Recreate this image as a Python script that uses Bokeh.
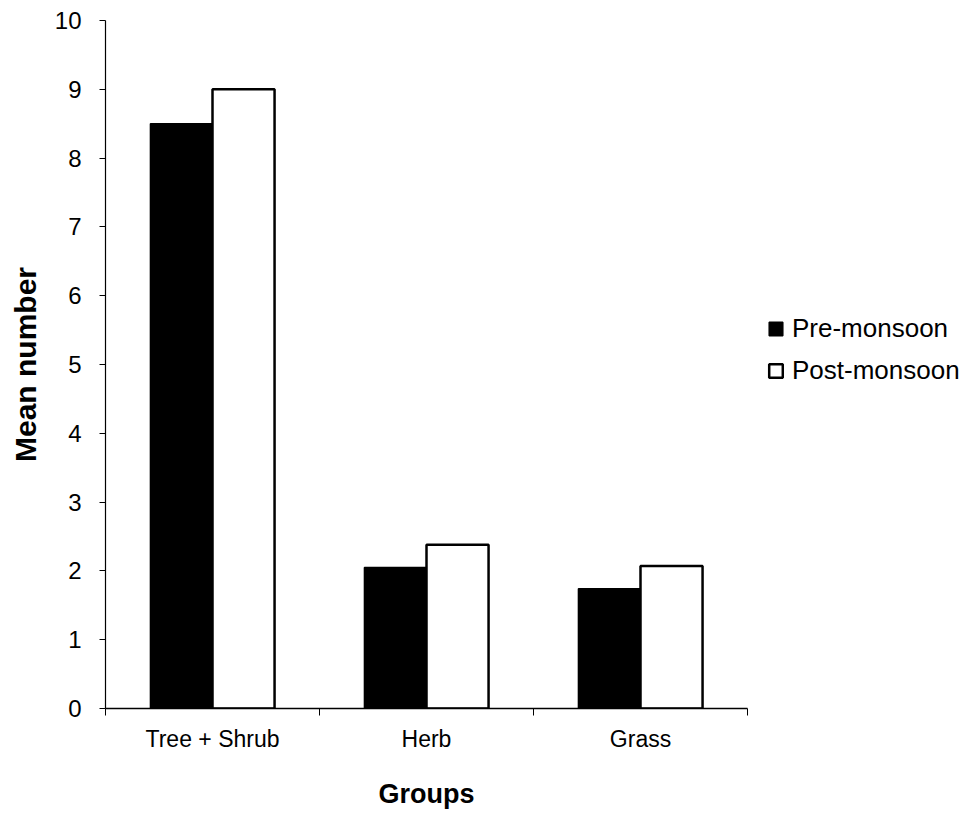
from bokeh.plotting import figure
from bokeh.models import ColumnDataSource, FixedTicker, Legend, LegendItem, Range1d
from bokeh.embed import file_html
from bokeh.resources import INLINE

categories = ["Tree + Shrub", "Herb", "Grass"]
pre_monsoon = [8.5, 2.05, 1.74]
post_monsoon = [9.0, 2.38, 2.07]
series_names = ["Pre-monsoon", "Post-monsoon"]
y_ticks = [0, 1, 2, 3, 4, 5, 6, 7, 8, 9, 10]

FONT = "Liberation Sans"
bar_w = 0.29

centers = [i + 0.5 for i in range(len(categories))]
src = ColumnDataSource(dict(
    cat=categories,
    xpre=[c - bar_w / 2 for c in centers],
    xpost=[c + bar_w / 2 for c in centers],
    pre=pre_monsoon,
    post=post_monsoon,
))

p = figure(output_backend="svg", toolbar_location=None,
           frame_width=642, frame_height=688,
           x_range=Range1d(0, len(categories)), y_range=Range1d(0, 10))
p.min_border_left = 105
p.min_border_top = 20
p.min_border_bottom = 98
p.min_border_right = 210
p.outline_line_color = None
p.background_fill_color = "white"
p.border_fill_color = "white"
p.grid.grid_line_color = None

r1 = p.vbar(x="xpre", top="pre", width=bar_w, source=src,
            fill_color="black", line_color="black", line_width=1.5)
r2 = p.vbar(x="xpost", top="post", width=bar_w, source=src,
            fill_color="white", line_color="black", line_width=2.5)

# x axis
p.xaxis.ticker = FixedTicker(ticks=centers, minor_ticks=list(range(len(categories) + 1)))
p.xaxis.major_label_overrides = {c: n for c, n in zip(centers, categories)}
p.xaxis.major_tick_line_color = None
p.xaxis.major_tick_out = 0
p.xaxis.major_tick_in = 0
p.xaxis.minor_tick_line_color = "black"
p.xaxis.minor_tick_out = 7
p.xaxis.minor_tick_in = 0
p.xaxis.axis_line_color = "black"
p.xaxis.axis_line_width = 1.5
p.xaxis.major_label_text_font = FONT
p.xaxis.major_label_text_font_size = "23px"
p.xaxis.major_label_text_color = "black"
p.xaxis.major_label_standoff = 10
p.xaxis.axis_label = "Groups"
p.xaxis.axis_label_text_font = FONT
p.xaxis.axis_label_text_font_size = "27px"
p.xaxis.axis_label_text_font_style = "bold"
p.xaxis.axis_label_text_color = "black"
p.xaxis.axis_label_standoff = 24

# y axis
p.yaxis.ticker = FixedTicker(ticks=y_ticks)
p.yaxis.minor_tick_line_color = None
p.yaxis.major_tick_out = 6
p.yaxis.major_tick_in = 0
p.yaxis.major_tick_line_color = "black"
p.yaxis.axis_line_color = "black"
p.yaxis.axis_line_width = 1.2
p.yaxis.major_label_text_font = FONT
p.yaxis.major_label_text_font_size = "24px"
p.yaxis.major_label_text_color = "black"
p.yaxis.major_label_standoff = 18
p.yaxis.axis_label = "Mean number"
p.yaxis.axis_label_text_font = FONT
p.yaxis.axis_label_text_font_size = "30px"
p.yaxis.axis_label_text_font_style = "bold"
p.yaxis.axis_label_text_color = "black"
p.yaxis.axis_label_standoff = 10

legend = Legend(items=[LegendItem(label=series_names[0], renderers=[r1]),
                       LegendItem(label=series_names[1], renderers=[r2])],
                location=(20, 322))
legend.border_line_color = None
legend.background_fill_alpha = 0
legend.label_text_font = FONT
legend.label_text_font_size = "26px"
legend.label_text_color = "black"
legend.label_height = 28
legend.glyph_width = 17
legend.glyph_height = 17
legend.label_standoff = 8
legend.spacing = 11
legend.padding = 0
legend.margin = 0
p.add_layout(legend, "right")

open("out.html", "w").write(file_html(p, INLINE))
